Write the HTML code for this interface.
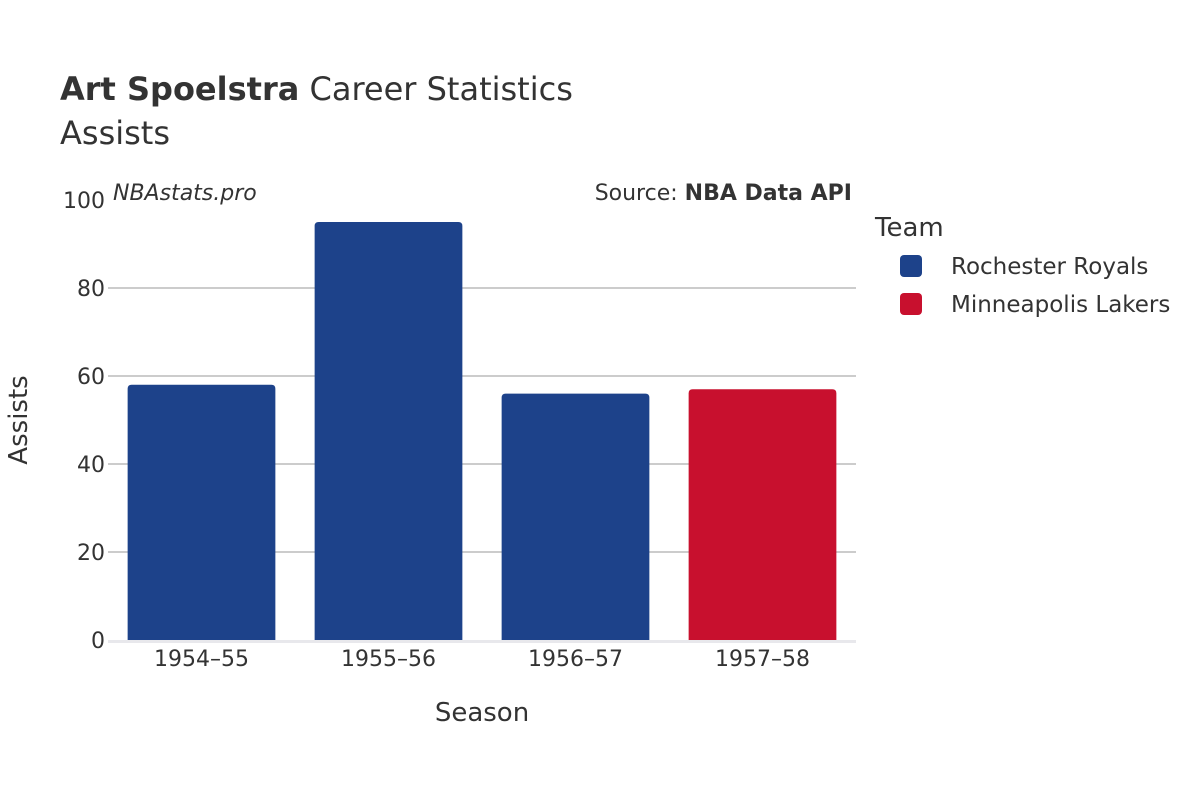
<!DOCTYPE html>
<html><head><meta charset="utf-8"><style>
body{margin:0;background:#fff;}
svg text{font-family:"DejaVu Sans","Liberation Sans",sans-serif;fill:#333;}
</style></head><body>
<svg width="1200" height="800" viewBox="0 0 1200 800">
<text x="60" y="100" font-size="32"><tspan font-weight="bold">Art Spoelstra</tspan> Career Statistics</text>
<text x="60" y="144" font-size="32">Assists</text>
<text x="113" y="200" font-size="22" font-style="italic">NBAstats.pro</text>
<text x="852" y="200" font-size="22" text-anchor="end">Source: <tspan font-weight="bold">NBA Data API</tspan></text>
<g id="grid"></g>
<g id="bars"></g>
<g id="xt"></g>
<text x="482" y="721" font-size="26" text-anchor="middle">Season</text>
<text transform="translate(27,420) rotate(-90)" font-size="26" text-anchor="middle">Assists</text>
<text x="875" y="236" font-size="26">Team</text>
<g><rect x="900" y="255" width="22" height="22" rx="4" fill="#1d428a"/><text x="951" y="274" font-size="23">Rochester Royals</text></g>
<g><rect x="900" y="293" width="22" height="22" rx="4" fill="#c8102e"/><text x="951" y="312" font-size="23">Minneapolis Lakers</text></g>
</svg>
<script>
const categories=["1954–55","1955–56","1956–57","1957–58"];
const values=[58,95,56,57];
const teams=["Rochester Royals","Rochester Royals","Rochester Royals","Minneapolis Lakers"];
const yTicks=[0,20,40,60,80,100];
const colors={"Rochester Royals":"#1d428a","Minneapolis Lakers":"#c8102e"};
const NS="http://www.w3.org/2000/svg";
const x0=108,x1=856,y0=640,y1=200,ymax=100;
const y=v=>y0-(y0-y1)*v/ymax;
const bw=(x1-x0)/categories.length;
const xc=i=>x0+bw*(i+0.5);
function mk(t,a,p){const e=document.createElementNS(NS,t);for(const k in a)e.setAttribute(k,a[k]);p.appendChild(e);return e;}
const g=document.getElementById('grid');
yTicks.forEach(t=>{
  if(t>0&&t<ymax){const l=mk('line',{x1:x0,x2:x1,y1:y(t),y2:y(t),stroke:'#bbb','stroke-width':1.5},g);
  
  }
  const tx=mk('text',{x:x0-3,y:y(t)+8,'font-size':22,'text-anchor':'end'},g);tx.textContent=t;
  
  
});
const zl=mk('line',{x1:x0,x2:x1,y1:y0+1.5,y2:y0+1.5,stroke:'#e8e8ec','stroke-width':3},g);


const b=document.getElementById('bars'),xt=document.getElementById('xt');
const w=bw*0.79,r=4;
values.forEach((v,i)=>{
  const L=xc(i)-w/2,R=xc(i)+w/2,T=y(v),B=y0;
  const p=mk('path',{d:`M${L},${B}V${T+r}Q${L},${T} ${L+r},${T}H${R-r}Q${R},${T} ${R},${T+r}V${B}Z`,fill:colors[teams[i]]},b);
  
  
  const t=mk('text',{x:xc(i),y:666,'font-size':22,'text-anchor':'middle'},xt);t.textContent=categories[i];
  
  
});
</script>
</body></html>
